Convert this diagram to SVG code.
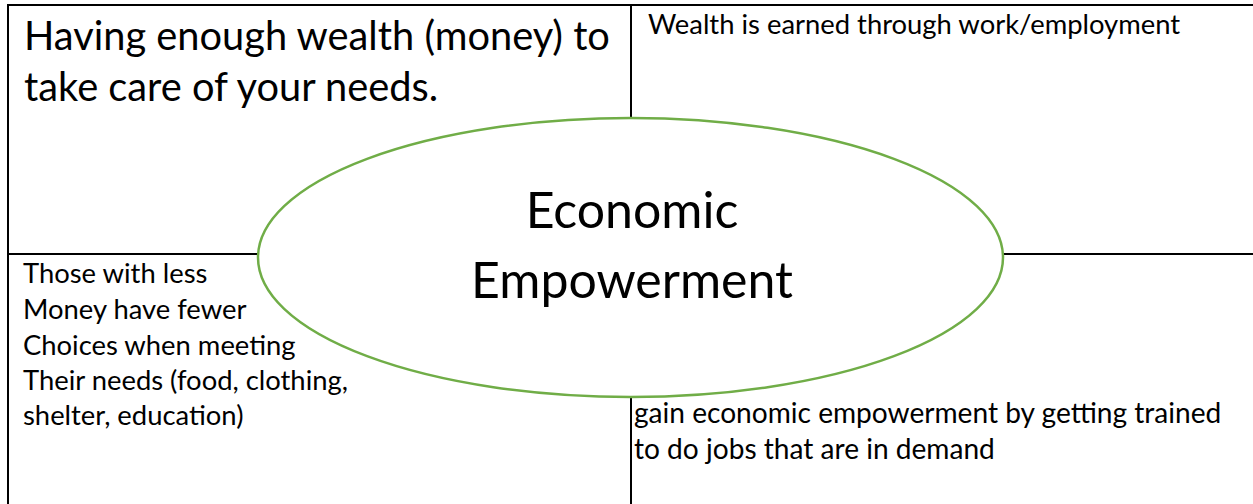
<svg xmlns="http://www.w3.org/2000/svg" width="1253" height="504" viewBox="0 0 1253 504">
<style>
.ln{stroke:#000;stroke-width:2;fill:none}
.t{font-family:Lato,"Liberation Sans",sans-serif;fill:#000}
.big{font-size:39.8px}
.sm{font-size:27.4px}
.ctr{font-size:50px;text-anchor:middle}
</style>
<rect width="1253" height="504" fill="#fff"/>
<g id="connectors">
<path class="ln" d="M8,504 V5 H1253"/>
<path class="ln" d="M631,5 V504"/>
<path class="ln" d="M8,254 H1253"/>
</g>
<g id="q1"><text class="t big" x="24" y="50">Having enough wealth (money) to</text><text class="t big" x="24" y="101">take care of your needs.</text></g>
<g id="q2"><text class="t sm" x="648" y="34">Wealth is earned through work/employment</text></g>
<g id="q3"><text class="t sm" x="23" y="283">Those with less</text><text class="t sm" x="23" y="319">Money have fewer</text><text class="t sm" x="23" y="355">Choices when meeting</text><text class="t sm" x="23" y="390">Their needs (food, clothing,</text><text class="t sm" x="23" y="425">shelter, education)</text></g>
<g id="q4"><text class="t sm" x="634" y="423" style="font-size:28.1px">gain economic empowerment by getting trained</text><text class="t sm" x="634" y="459" style="font-size:28.1px">to do jobs that are in demand</text></g>
<g id="center"><ellipse cx="630.5" cy="257.5" rx="372.5" ry="139.5" fill="#fff" stroke="#70AD47" stroke-width="2.5"/><text class="t ctr" x="632" y="228">Economic</text><text class="t ctr" x="632" y="298">Empowerment</text></g>
</svg>
